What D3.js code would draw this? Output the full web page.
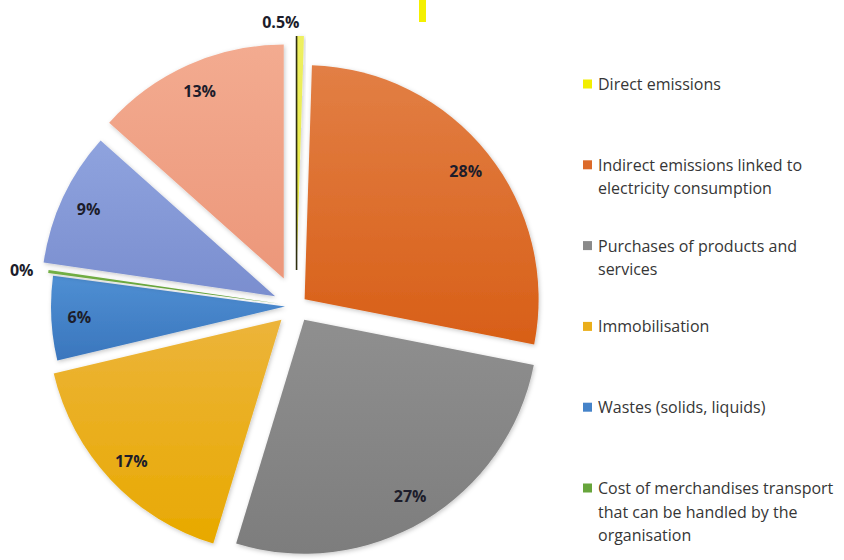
<!DOCTYPE html>
<html><head><meta charset="utf-8">
<script src="https://cdn.jsdelivr.net/npm/d3@7/dist/d3.min.js"></script>
<style>
html,body{margin:0;padding:0;background:#fff;}
svg{display:block;}
</style></head>
<body>
<script>
// ---- data (shares; labels as printed) ----
const categories = [
  "Direct emissions",
  "Indirect emissions linked to electricity consumption",
  "Purchases of products and services",
  "Immobilisation",
  "Wastes (solids, liquids)",
  "Cost of merchandises transport that can be handled by the organisation",
  null,
  null
];
const values = [0.5, 27.6, 26.6, 16.6, 5.8, 0.2, 9.3, 13.4];
const valueLabels = ["0.5%", "28%", "27%", "17%", "6%", "0%", "9%", "13%"];
const legendLines = [
  ["Direct emissions"],
  ["Indirect emissions linked to", "electricity consumption"],
  ["Purchases of products and", "services"],
  ["Immobilisation"],
  ["Wastes (solids, liquids)"],
  ["Cost of merchandises transport", "that can be handled by the", "organisation"]
];

// ---- styles ----
const colTop =    ["#eef060", "#e27f45", "#8f8f8f", "#ecb43a", "#4f8fd3", "#74b046", "#8fa3de", "#f3ab90"];
const colBottom = ["#e4e640", "#d85f17", "#7d7d7d", "#e8a900", "#3a76bd", "#5d9a35", "#7a8ecf", "#ec977a"];
const swatch =    ["#f2ee00", "#dc6a2a", "#8a8a8a", "#eaae1a", "#4583c9", "#67a53c", "#8498d6", "#f0a185"];
const explode = [36, 11, 16, 20, 11, 16, 23, 30];

const W = 844, H = 560;
const cx = 296, cy = 306, R = 234;

const svg = d3.select("body").append("svg").attr("width", W).attr("height", H);
const defs = svg.append("defs");
const f = defs.append("filter").attr("id", "shadow").attr("x", "-10%").attr("y", "-10%").attr("width", "130%").attr("height", "130%");
f.append("feDropShadow").attr("dx", 1).attr("dy", 1.5).attr("stdDeviation", 2).attr("flood-color", "#000").attr("flood-opacity", 0.22);

values.forEach((v, i) => {
  const lg = defs.append("linearGradient").attr("id", "grad" + i)
    .attr("x1", 0).attr("y1", 0).attr("x2", 0).attr("y2", 1);
  lg.append("stop").attr("offset", "0%").attr("stop-color", colTop[i]);
  lg.append("stop").attr("offset", "100%").attr("stop-color", colBottom[i]);
});

// cropped yellow element at the top edge of the source
svg.append("rect").attr("x", 419).attr("y", 0).attr("width", 7).attr("height", 22).attr("fill", "#f4f000");

const pie = d3.pie().sort(null).value(d => d.v);
const data = values.map((v, i) => ({ v, i, name: categories[i] }));
const arcs = pie(data);
const arc = d3.arc().innerRadius(0).outerRadius(R);

const g = svg.append("g").attr("transform", `translate(${cx},${cy})`);

arcs.forEach(a => {
  const mid = (a.startAngle + a.endAngle) / 2;
  const d = explode[a.index];
  a.dx = Math.sin(mid) * d;
  a.dy = -Math.cos(mid) * d;
  a.mid = mid;
});

g.selectAll("path.slice").data(arcs).enter().append("path")
  .attr("class", "slice")
  .attr("d", arc)
  .attr("transform", a => `translate(${a.dx},${a.dy})`)
  .attr("fill", a => `url(#grad${a.index})`)
  .attr("filter", "url(#shadow)");

// dark edge on the thin direct-emissions slice
const a0 = arcs[0];
g.append("line")
  .attr("x1", a0.dx).attr("y1", a0.dy)
  .attr("x2", a0.dx + Math.sin(a0.startAngle) * R).attr("y2", a0.dy - Math.cos(a0.startAngle) * R)
  .attr("stroke", "#2e2e10").attr("stroke-width", 1.6);

// labels
const font = "'Open Sans', Lato, sans-serif";
arcs.forEach(a => {
  const small = a.data.v < 1;
  const r = small ? R + 14 : R * 0.88;
  const x = a.dx + Math.sin(a.mid) * r;
  const y = a.dy - Math.cos(a.mid) * r;
  g.append("text")
    .attr("x", small ? x - 1 : x)
    .attr("y", y)
    .attr("text-anchor", small ? "end" : "middle")
    .attr("dominant-baseline", "central")
    .attr("font-family", font)
    .attr("font-weight", "bold")
    .attr("font-size", 16)
    .attr("fill", "#1d1d2b")
    .text(valueLabels[a.index]);
});

// legend
const leg = svg.append("g").attr("transform", "translate(583,84)");
const step = 80.8, lh = 23.5;
legendLines.forEach((lines, i) => {
  const gi = leg.append("g").attr("transform", `translate(0,${i * step})`);
  gi.append("rect").attr("x", 0).attr("y", -4.5).attr("width", 9).attr("height", 9).attr("fill", swatch[i]);
  lines.forEach((t, k) => {
    gi.append("text")
      .attr("x", 15).attr("y", k * lh)
      .attr("dominant-baseline", "central")
      .attr("font-family", font)
      .attr("font-size", 16)
      .attr("fill", "#363636")
      .text(t);
  });
});
</script>
</body></html>
